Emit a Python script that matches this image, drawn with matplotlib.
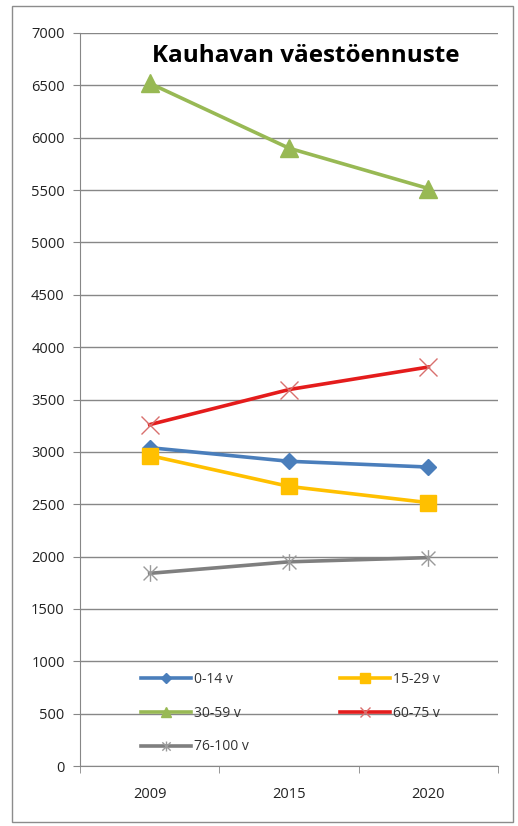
import matplotlib
matplotlib.use("Agg")
from matplotlib import pyplot as plt
from matplotlib.patches import Rectangle
from matplotlib.path import Path

years = ["2009", "2015", "2020"]
y_ticks = list(range(0, 7001, 500))

age_0_14 = [3040, 2910, 2855]
age_15_29 = [2965, 2670, 2515]
age_30_59 = [6520, 5900, 5515]
age_60_75 = [3260, 3595, 3810]
age_76_100 = [1840, 1950, 1990]

# Excel-style star: an x with a vertical bar through it
star = Path(
    [(-1, -1), (1, 1), (-1, 1), (1, -1), (0, -1.2), (0, 1.2)],
    [Path.MOVETO, Path.LINETO, Path.MOVETO, Path.LINETO, Path.MOVETO, Path.LINETO],
)

series = [
    ("0-14 v", age_0_14, "#4a7ebb", dict(marker="D", ms=8, mfc="#4a7ebb", mec="#4a7ebb")),
    ("15-29 v", age_15_29, "#ffc000", dict(marker="s", ms=12, mfc="#ffc000", mec="#ffc000")),
    ("30-59 v", age_30_59, "#98b954", dict(marker="^", ms=13, mfc="#98b954", mec="#98b954")),
    ("60-75 v", age_60_75, "#e41c1c", dict(marker="x", ms=13, mec="#d9706e", mew=1.0)),
    ("76-100 v", age_76_100, "#7f7f7f", dict(marker=star, ms=12, mec="#9a9a9a", mew=1.0)),
]

fig = plt.figure(figsize=(5.18, 8.26), dpi=100)
fig.patches.append(Rectangle((12 / 518, 1 - 822 / 826), 501 / 518, 816 / 826,
                             transform=fig.transFigure, fill=False,
                             edgecolor="#8c8c8c", linewidth=1.0))

ax = fig.add_axes([80 / 518, 1 - 766 / 826, 418 / 518, 733 / 826])
x = list(range(len(years)))

handles = {}
for label, values, color, mk in series:
    (line,) = ax.plot(x, values, color=color, lw=2.6, label=label, zorder=3, **mk)
    handles[label] = line

ax.set_xlim(-0.5, 2.5)
ax.set_ylim(0, 7000)
ax.set_yticks(y_ticks)
ax.yaxis.grid(True, color="#878787", lw=1.0)
ax.set_axisbelow(True)

ax.set_xticks(x)
ax.set_xticklabels(years)
ax.set_xticks([-0.5, 0.5, 1.5, 2.5], minor=True)
ax.tick_params(axis="x", which="major", length=0, pad=15, labelsize=10.5, labelcolor="#222222")
ax.tick_params(axis="x", which="minor", length=5, direction="out", color="#878787")
ax.tick_params(axis="y", length=5, direction="out", color="#878787", labelsize=10.5,
               labelcolor="#222222", pad=6)
for lab in ax.get_xticklabels() + ax.get_yticklabels():
    lab.set_family("Open Sans")

for side in ("top", "right"):
    ax.spines[side].set_visible(False)
for side in ("left", "bottom"):
    ax.spines[side].set_color("#878787")

fig.text(306 / 518, 1 - 56 / 826, "Kauhavan väestöennuste", ha="center", va="center",
         fontsize=17.5, fontweight="bold", family="Open Sans")

order = ["0-14 v", "30-59 v", "76-100 v", "15-29 v", "60-75 v"]
leg = ax.legend([handles[k] for k in order], order, ncol=2, frameon=False,
                loc="upper left", bbox_to_anchor=(0.132, 0.136),
                prop={"family": "Open Sans", "size": 10},
                handlelength=3.6, handletextpad=0.2, columnspacing=6.6,
                labelspacing=1.35, markerscale=0.6, borderaxespad=0)
for t in leg.get_texts():
    t.set_color("#333333")

fig.savefig("out.png", dpi=100)
